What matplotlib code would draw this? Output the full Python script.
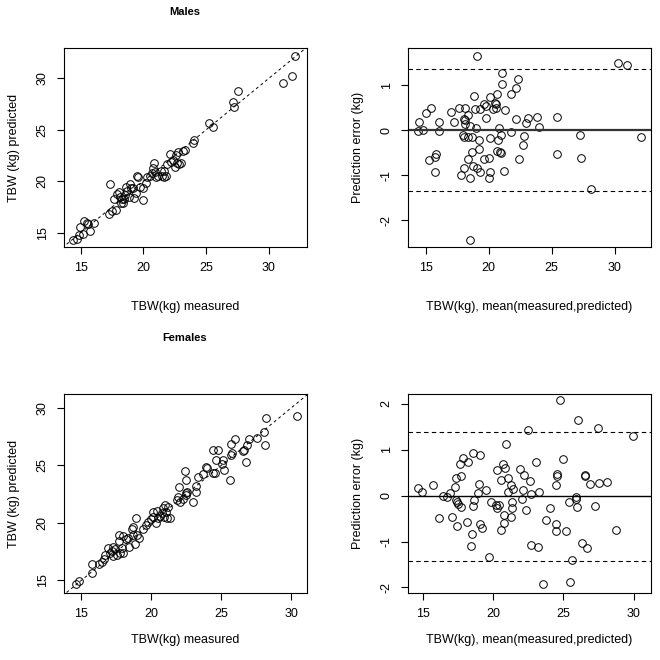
import matplotlib
matplotlib.use('agg')
import matplotlib.pyplot as plt
from matplotlib import rc

rc('font', family=['Liberation Sans', 'DejaVu Sans'], size=9)
rc('axes', linewidth=0.8)

# ---- Males: measured vs predicted TBW (kg)
males_measured = [14.42, 14.68, 14.89, 15.21, 14.95, 15.29, 15.50, 15.61, 15.74, 16.06,
                  17.34, 17.28, 17.47, 17.84, 17.68, 17.90, 18.03, 18.13, 18.24, 18.29,
                  18.40, 18.45, 18.53, 18.61, 18.72, 18.82, 18.93, 18.98, 19.20, 19.28,
                  19.41, 19.52, 19.59, 19.73, 19.94, 19.99, 20.21, 20.31, 20.52, 20.66,
                  20.74, 20.84, 20.92, 21.00, 21.14, 21.37, 21.51, 21.64, 21.80, 21.64,
                  21.91, 22.12, 22.20, 22.38, 22.49, 22.60, 22.78, 22.70, 22.86, 23.13,
                  23.31, 22.97, 24.03, 23.97, 25.22, 25.57, 27.11, 27.24, 27.51, 31.09,
                  31.81, 32.10]
males_predicted = [14.32, 14.39, 14.77, 14.84, 15.52, 16.17, 15.97, 15.84, 15.13, 15.97,
                   19.69, 16.81, 17.14, 17.23, 18.30, 18.72, 18.98, 18.50, 17.91, 18.24,
                   17.85, 18.24, 18.62, 19.47, 19.08, 18.50, 19.76, 19.30, 19.30, 18.40,
                   18.88, 20.50, 20.37, 19.47, 18.17, 19.37, 19.79, 20.37, 20.50, 20.76,
                   21.25, 21.73, 20.92, 20.44, 20.50, 21.02, 20.50, 20.44, 20.50, 20.99,
                   21.63, 22.64, 21.89, 22.06, 21.41, 22.54, 22.86, 21.80, 21.67, 22.93,
                   23.03, 21.74, 24.00, 23.68, 25.68, 25.23, 27.66, 27.23, 28.76, 29.51,
                   30.22, 32.19]

# ---- Males: Bland-Altman (mean, measured - predicted)
males_mean = [19.07, 15.43, 15.00, 14.47, 14.36, 14.81, 16.06, 16.06, 15.82, 15.74,
              15.27, 15.77, 17.02, 17.21, 17.61, 18.14, 18.03, 18.32, 18.14, 18.09,
              18.54, 18.80, 18.93, 19.28, 19.65, 19.81, 20.13, 19.81, 19.02, 20.35,
              20.66, 20.59, 20.80, 17.93, 18.00, 18.32, 18.70, 19.23, 20.13, 20.72,
              18.67, 19.20, 18.32, 18.06, 18.75, 19.07, 19.34, 19.60, 20.00, 20.13,
              20.00, 17.79, 18.51, 20.64, 18.54,
              30.27, 30.98, 21.09, 22.34, 21.06, 22.15, 21.81, 20.48, 20.61, 21.30,
              22.15, 23.09, 22.95, 23.80, 23.99, 25.40, 21.01, 21.76, 22.79, 27.26,
              22.71, 20.88, 20.96, 22.42, 25.40, 27.37, 21.22, 28.11, 32.09]
males_diff = [1.64, 0.50, 0.39, 0.18, -0.01, 0.00, 0.19, -0.02, -0.54, -0.59,
              -0.67, -0.93, 0.41, 0.19, 0.50, 0.50, 0.24, 0.33, 0.22, 0.13,
              0.09, 0.76, 0.47, 0.46, 0.58, 0.54, 0.73, 0.27, 0.04, 0.46,
              0.80, 0.59, 0.04, -0.10, -0.16, -0.16, -0.15, -0.21, -0.17, -0.21,
              -0.48, -0.42, -0.64, -0.84, -0.80, -0.85, -0.93, -0.64, -0.61, -0.93,
              -1.05, -1.00, -1.05, -0.46, -2.43,
              1.49, 1.45, 1.26, 1.13, 1.02, 0.94, 0.81, 0.61, 0.48, 0.45,
              0.24, 0.27, 0.15, 0.28, 0.08, 0.28, -0.10, -0.04, -0.12, -0.11,
              -0.34, -0.49, -0.50, -0.64, -0.52, -0.61, -0.90, -1.31, -0.16]
males_limits = [1.35, -1.35]

# ---- Females: measured vs predicted TBW (kg)
females_measured = [14.61, 14.83, 15.74, 15.74, 16.28, 16.45, 16.61, 16.71, 16.92, 17.04,
                    17.16, 17.28, 17.40, 17.24, 17.52, 17.76, 17.99, 17.88, 17.71, 17.71,
                    17.95, 18.19, 18.35, 18.42, 18.59, 18.71, 18.66, 18.83, 18.95, 18.90,
                    19.14, 19.38, 19.61, 19.78, 19.95, 20.09, 20.14, 20.33, 20.42, 20.49,
                    20.61, 20.74, 20.85, 20.97, 21.04, 21.09, 21.21, 21.33, 20.90, 21.81,
                    21.92, 21.99, 22.04, 22.28, 22.47, 22.47, 22.56, 22.47, 22.42, 23.00,
                    23.19, 23.19, 23.35, 23.71, 23.95, 23.88, 24.38, 24.54, 24.38, 24.78,
                    24.59, 25.14, 25.19, 25.02, 25.61, 25.66, 25.74, 25.69, 25.97, 26.52,
                    26.61, 26.76, 26.85, 26.97, 27.52, 28.04, 28.09, 28.19, 30.42]
females_predicted = [14.68, 14.94, 16.39, 15.61, 16.42, 16.62, 16.83, 17.20, 17.78, 17.40,
                     17.55, 17.92, 17.70, 17.14, 17.20, 17.40, 17.35, 17.78, 18.42, 18.94,
                     18.88, 18.59, 18.70, 17.92, 19.46, 19.66, 18.94, 18.13, 18.94, 20.39,
                     18.70, 19.46, 19.81, 20.10, 20.33, 20.53, 20.97, 19.96, 21.03, 20.39,
                     20.62, 20.83, 21.26, 21.55, 20.97, 20.44, 21.40, 20.39, 20.53, 21.98,
                     22.27, 23.14, 21.78, 22.07, 22.42, 22.62, 22.70, 23.72, 24.53, 21.78,
                     22.70, 23.23, 24.01, 24.22, 24.79, 24.88, 24.30, 24.30, 26.33, 26.33,
                     25.46, 25.46, 24.59, 25.09, 23.72, 26.83, 26.04, 25.90, 27.29, 26.24,
                     26.33, 25.26, 26.77, 27.29, 27.40, 27.87, 26.77, 29.09, 29.29]

# ---- Females: Bland-Altman (mean, measured - predicted)
females_mean = [14.65, 14.93, 15.77, 16.46, 16.72, 16.93, 17.29, 17.36, 17.72, 17.67,
                17.84, 18.24, 18.55, 19.10, 19.03, 19.50, 18.96, 18.67, 18.55, 17.36,
                17.41, 17.53, 17.72, 17.08, 16.17, 17.43, 18.15, 18.48, 18.44, 19.08,
                19.20, 19.74, 19.86, 20.22, 20.27, 20.27,
                24.74, 26.08, 27.50, 22.46, 20.93, 23.03, 25.00, 20.70, 20.84, 21.93,
                22.24, 22.60, 20.58, 21.10, 21.29, 21.05, 21.46, 22.12, 22.70, 23.31,
                24.55, 24.55, 24.46, 26.55, 26.55, 26.88, 27.55, 28.08, 25.93, 25.88,
                25.41, 26.00, 27.24, 20.46, 21.36, 21.36, 22.05, 22.36, 20.81, 21.29,
                20.79, 20.60, 24.08, 23.79, 24.50, 24.50, 25.17, 22.70, 23.22, 26.36,
                26.72, 25.65, 25.46, 23.53, 29.93, 28.74]
females_diff = [0.16, 0.07, 0.22, 0.00, -0.04, 0.05, 0.18, 0.39, 0.43, 0.68,
                0.81, 0.72, 0.92, 0.88, 0.25, 0.12, 0.05, -0.09, -0.22, -0.09,
                -0.14, -0.19, -0.24, -0.46, -0.49, -0.66, -0.57, -0.83, -1.09, -0.62,
                -0.71, -1.33, -0.14, -0.20, -0.26, 0.56,
                2.07, 1.64, 1.46, 1.42, 1.12, 0.74, 0.79, 0.69, 0.59, 0.58,
                0.45, 0.32, 0.34, 0.38, 0.23, 0.07, 0.14, 0.12, 0.04, 0.07,
                0.46, 0.43, 0.22, 0.45, 0.43, 0.25, 0.28, 0.30, -0.04, -0.07,
                -0.14, -0.24, -0.22, -0.20, -0.13, -0.26, -0.07, -0.31, -0.42, -0.46,
                -0.60, -0.75, -0.28, -0.53, -0.62, -0.78, -0.77, -1.07, -1.11, -1.04,
                -1.14, -1.41, -1.87, -1.93, 1.30, -0.75]
females_limits = [1.38, -1.42]

W = H = 660.0


def px_box(l, t, r, b):
    return [l / W, 1 - b / H, (r - l) / W, (b - t) / H]


def style(ax, xt, yt, xlab_off):
    ax.set_xticks(xt)
    ax.set_yticks(yt)
    ax.set_xticklabels(['%d' % v for v in xt])
    ax.set_yticklabels(['%d' % v for v in yt], rotation=90, va='center')
    ax.tick_params(axis='both', direction='out', length=5, width=0.8, pad=6)
    ax.xaxis.set_label_coords(0.5, -xlab_off / 199.0)
    ax.xaxis.label.set_va('center')
    ax.yaxis.set_label_coords(-50 / 243.0, 0.5)
    ax.yaxis.label.set_va('center')


def scatter_panel(ax, x, y, xlim, ylim, xlab_off):
    ax.plot([0, 40], [0, 40], linestyle=(0, (3, 3)), color='black', linewidth=0.7)
    ax.plot(x, y, 'o', mfc='none', mec='black', ms=5.5, mew=0.7)
    ax.set_xlim(xlim)
    ax.set_ylim(ylim)
    ax.set_xlabel('TBW(kg) measured')
    ax.set_ylabel('TBW (kg) predicted')
    style(ax, [15, 20, 25, 30], [15, 20, 25, 30], xlab_off)


def ba_panel(ax, x, y, limits, xlim, ylim, yt, zero_lw, zero_col, xlab_off):
    ax.plot(x, y, 'o', mfc='none', mec='black', ms=5.5, mew=0.7)
    ax.axhline(0, color=zero_col, linewidth=zero_lw)
    for lim in limits:
        ax.axhline(lim, color='black', linewidth=0.8, linestyle=(0, (4, 3)))
    ax.set_xlim(xlim)
    ax.set_ylim(ylim)
    ax.set_xlabel('TBW(kg), mean(measured,predicted)')
    ax.set_ylabel('Prediction error (kg)')
    style(ax, [15, 20, 25, 30], yt, xlab_off)


fig = plt.figure(figsize=(6.6, 6.6), dpi=100)

ax1 = fig.add_axes(px_box(64, 48, 307, 247))
scatter_panel(ax1, males_measured, males_predicted, (13.67, 33.03), (13.61, 32.94), 60)

ax2 = fig.add_axes(px_box(408, 48, 651, 247))
ba_panel(ax2, males_mean, males_diff, males_limits, (13.59, 32.89), (-2.59, 1.82),
         [-2, -1, 0, 1], 1.6, '#333333', 60)

ax3 = fig.add_axes(px_box(64, 394, 307, 593))
scatter_panel(ax3, females_measured, females_predicted, (13.76, 31.11), (13.90, 31.19), 47)

ax4 = fig.add_axes(px_box(408, 394, 651, 593))
ba_panel(ax4, females_mean, females_diff, females_limits, (13.96, 31.24), (-2.12, 2.21),
         [-2, -1, 0, 1, 2], 1.0, 'black', 47)

fig.text(185 / W, 1 - 12 / H, 'Males', ha='center', va='center', fontsize=8, fontweight='bold')
fig.text(185 / W, 1 - 338 / H, 'Females', ha='center', va='center', fontsize=8, fontweight='bold')

plt.savefig('out.png', dpi=100)
plt.close()
